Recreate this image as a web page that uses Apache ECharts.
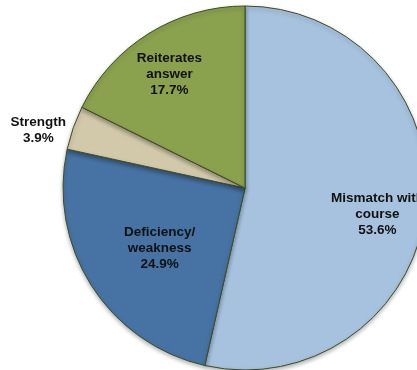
<!DOCTYPE html>
<html><head><meta charset="utf-8">
<script src="https://cdn.jsdelivr.net/npm/echarts@6/dist/echarts.min.js"></script>
<style>html,body{margin:0;padding:0;background:#fff}#c{width:417px;height:370px}</style>
</head><body><div id="c"></div>
<script>
const categories = ['Mismatch with\ncourse', 'Deficiency/\nweakness', 'Strength', 'Reiterates\nanswer'];
const values = [53.6, 24.9, 3.9, 17.7];
const colors = ['#a6c2de', '#4673a3', '#d2c9aa', '#8aa14e'];
const labelShift = [[39, 16], [-6, 10], [-118, -27], [-26, -34]];

const chart = echarts.init(document.getElementById('c'));
chart.setOption({
  animation: false,
  series: [{
    type: 'pie',
    center: [245, 188],
    radius: 182,
    startAngle: 90,
    clockwise: true,
    avoidLabelOverlap: false,
    data: categories.map((n, i) => ({name: n, value: values[i], itemStyle: {color: colors[i]}})),
    itemStyle: {borderColor: '#3f4c22', borderWidth: 1, shadowBlur: 4, shadowOffsetY: 2, shadowColor: 'rgba(0,0,0,0.3)'},
    label: {
      position: 'inside',
      formatter: p => p.name + '\n' + p.value.toFixed(1) + '%',
      fontFamily: 'Liberation Sans, Arial, sans-serif',
      fontWeight: 'bold',
      fontSize: 13.5,
      lineHeight: 16,
      color: '#111',
      align: 'center'
    },
    labelLine: {show: false},
    labelLayout: p => ({dx: labelShift[p.dataIndex][0], dy: labelShift[p.dataIndex][1]}),
    emphasis: {disabled: true}
  }]
});
</script></body></html>
